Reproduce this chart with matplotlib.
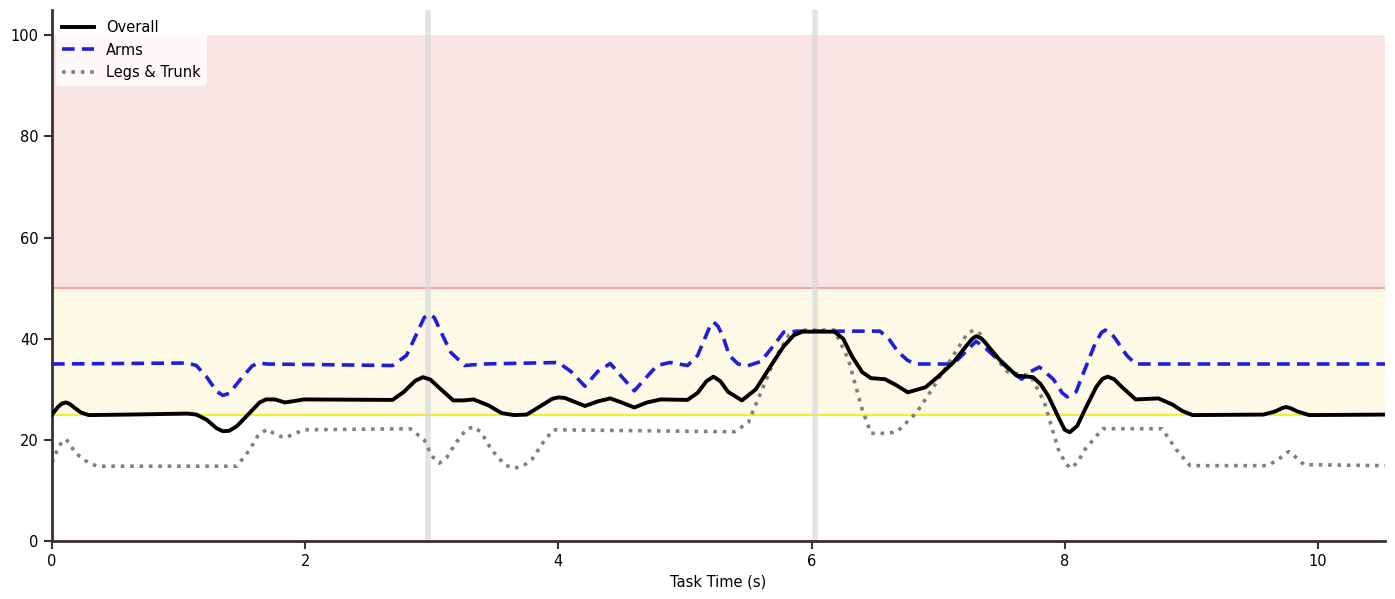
import matplotlib
matplotlib.use("Agg")
import matplotlib.pyplot as plt

# ---- data ----
overall_t = [0.0, 0.05, 0.08, 0.11, 0.14, 0.18, 0.23, 0.29, 0.6, 1.07, 1.14, 1.22, 1.3, 1.35, 1.4, 1.46,
             1.56, 1.64, 1.69, 1.76, 1.84, 1.92, 1.99, 2.69, 2.78, 2.87, 2.93, 2.99, 3.05, 3.17, 3.25,
             3.33, 3.45, 3.55, 3.65, 3.75, 3.88, 3.95, 4.0, 4.05, 4.1, 4.21, 4.31, 4.41, 4.5, 4.6, 4.7,
             4.81, 5.02, 5.1, 5.17, 5.225, 5.28, 5.34, 5.45, 5.56, 5.68, 5.78, 5.86, 5.93, 6.18,
             6.25, 6.32, 6.4, 6.47, 6.58, 6.67, 6.76, 6.9, 7.0, 7.12, 7.22, 7.27, 7.3, 7.34, 7.38, 7.48,
             7.62, 7.75, 7.81, 7.87, 7.95, 8.0, 8.04, 8.1, 8.16, 8.25, 8.3, 8.34, 8.39, 8.45, 8.56, 8.74,
             8.85, 8.93, 9.01, 9.57, 9.66, 9.72, 9.75, 9.79, 9.84, 9.93, 10.53]
overall_v = [25.0, 26.6, 27.2, 27.4, 27.1, 26.3, 25.4, 24.9, 25.0, 25.2, 25.0, 24.0, 22.3, 21.7, 21.8, 22.7,
             25.3, 27.4, 28.0, 28.0, 27.4, 27.7, 28.0, 27.9, 29.5, 31.7, 32.4, 31.9, 30.5, 27.8, 27.8,
             28.0, 26.8, 25.3, 24.9, 25.0, 27.0, 28.1, 28.4, 28.3, 27.8, 26.7, 27.6, 28.2, 27.4, 26.4, 27.4,
             28.0, 27.9, 29.3, 31.6, 32.5, 31.6, 29.5, 27.8, 30.0, 34.7, 38.5, 40.7, 41.4, 41.4,
             40.0, 36.5, 33.4, 32.2, 32.0, 30.8, 29.4, 30.4, 32.5, 35.3, 38.5, 40.0, 40.5, 40.1, 39.0, 36.0,
             32.7, 32.4, 31.0, 28.7, 24.5, 22.0, 21.5, 22.8, 26.0, 30.5, 32.1, 32.5, 32.0, 30.5, 28.0, 28.2,
             27.0, 25.7, 24.9, 25.0, 25.6, 26.3, 26.5, 26.2, 25.6, 24.9, 25.0]

arms_t = [0.0, 1.07, 1.14, 1.22, 1.3, 1.35, 1.4, 1.49, 1.58, 1.63, 1.7, 2.69, 2.8, 2.9, 2.94, 2.98,
          3.02, 3.06, 3.15, 3.26, 3.4, 4.0, 4.1, 4.21, 4.31, 4.41, 4.5, 4.6, 4.7, 4.78, 4.88, 5.02, 5.1,
          5.19, 5.225, 5.26, 5.3, 5.35, 5.42, 5.49, 5.6, 5.68, 5.78, 5.9, 6.54, 6.61, 6.68, 6.76, 6.83,
          7.12, 7.22, 7.3, 7.38, 7.48, 7.58, 7.66, 7.73, 7.8, 7.91, 7.98, 8.02, 8.09, 8.16, 8.24, 8.29,
          8.32, 8.36, 8.4, 8.49, 8.56, 8.7, 10.53]
arms_v = [35.0, 35.2, 34.7, 32.5, 29.6, 28.8, 29.2, 32.0, 34.6, 35.2, 35.0, 34.7, 36.7, 42.0, 44.2, 44.8,
          44.2, 42.0, 37.3, 34.7, 35.0, 35.3, 33.5, 30.6, 33.5, 35.1, 32.5, 29.7, 32.5, 34.7, 35.3, 34.7, 36.7,
          42.0, 43.3, 42.5, 40.5, 36.7, 35.0, 34.6, 35.5, 38.0, 41.3, 41.5, 41.5, 40.0, 37.5, 35.7, 35.0,
          35.0, 37.5, 39.5, 38.0, 35.7, 33.5, 32.0, 33.5, 34.4, 32.0, 29.3, 28.5, 29.5, 34.0, 39.0, 41.2,
          41.7, 41.3, 40.0, 36.7, 35.0, 35.0, 35.0]

legs_t = [0.0, 0.05, 0.08, 0.11, 0.14, 0.18, 0.29, 0.36, 1.46, 1.56, 1.63, 1.7, 1.77, 1.84, 1.99, 2.83,
          2.94, 3.0, 3.06, 3.12, 3.19, 3.27, 3.33, 3.39, 3.47, 3.58, 3.65, 3.72, 3.79, 3.88, 3.96, 5.39,
          5.5, 5.6, 5.71, 5.82, 5.9, 6.18, 6.29, 6.4, 6.47, 6.61, 6.68, 6.83, 6.97, 7.12, 7.23, 7.28,
          7.33, 7.44, 7.55, 7.73, 7.84, 7.95, 8.01, 8.05, 8.1, 8.16, 8.3, 8.77, 8.88, 8.99, 9.6, 9.68,
          9.77, 9.83, 9.89, 10.53]
legs_v = [15.5, 18.5, 19.7, 20.1, 19.3, 17.5, 15.4, 14.8, 14.8, 18.0, 21.0, 22.1, 21.0, 20.4, 22.0, 22.2,
          20.0, 16.8, 15.4, 16.6, 19.4, 22.0, 22.6, 21.5, 18.1, 15.0, 14.4, 14.8, 16.1, 19.5, 22.0, 21.6,
          23.4, 29.4, 36.0, 40.7, 41.7, 41.7, 36.0, 26.0, 21.3, 21.3, 21.7, 25.4, 30.7, 36.7, 41.0, 41.7,
          41.0, 36.7, 33.4, 32.7, 27.4, 18.1, 15.2, 14.4, 15.5, 18.1, 22.2, 22.2, 18.1, 14.9, 14.9, 16.0,
          17.7, 16.5, 15.1, 14.9]

markers_t = [2.97, 6.03]

# ---- plot ----
fig = plt.figure(figsize=(13.95, 5.99), dpi=100)
ax = fig.add_axes([0.0373, 0.0968, 0.9555, 0.8865])

ax.axhspan(50, 100, color="#f9e4e4", zorder=0, lw=0)
ax.axhspan(25, 50, color="#fcfae6", zorder=0, lw=0)
ax.axhline(50, color="#f2a8a8", lw=1.5, zorder=1)
ax.axhline(25, color="#f5ee2a", lw=1.5, zorder=1)
for t in markers_t:
    ax.axvline(t, color="#d8d8d8", lw=4, alpha=0.7, zorder=1)

ax.plot(overall_t, overall_v, color="black", lw=2.8, label="Overall", zorder=4,
        solid_joinstyle="round")
ax.plot(arms_t, arms_v, color="#1f1fdb", lw=2.6, ls=(0, (3.5, 2)), label="Arms", zorder=3,
        dash_joinstyle="round")
ax.plot(legs_t, legs_v, color="#808080", lw=2.6, ls=(0, (1, 1.6)), label="Legs & Trunk", zorder=2)

ax.set_xlim(0, 10.53)
ax.set_ylim(0, 105)
ax.set_xticks([0, 2, 4, 6, 8, 10])
ax.set_yticks([0, 20, 40, 60, 80, 100])
ax.set_xlabel("Task Time (s)", fontsize=10.5)
ax.tick_params(labelsize=10.5, color="#3b2f2f", width=1.5, length=6)

for s in ["top", "right"]:
    ax.spines[s].set_visible(False)
for s in ["left", "bottom"]:
    ax.spines[s].set_color("#3b2f2f")
    ax.spines[s].set_linewidth(2)

leg = ax.legend(loc="upper left", fontsize=10.5, frameon=True, framealpha=0.8,
                edgecolor="none", handlelength=2.2, borderaxespad=0.3)

fig.savefig("out.png", dpi=100)
